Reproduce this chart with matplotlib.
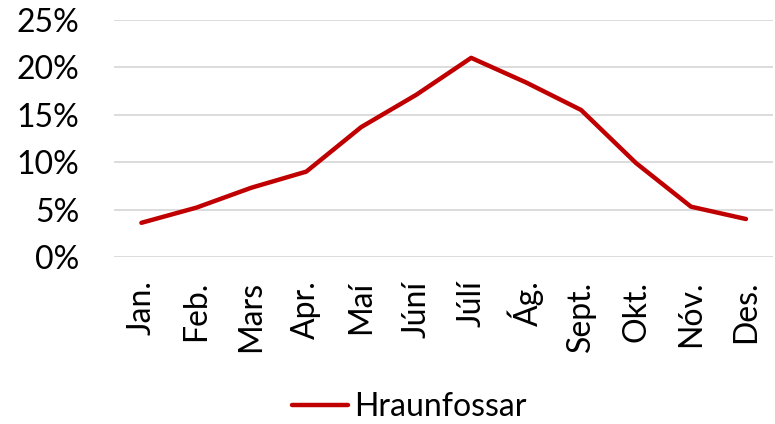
import matplotlib.pyplot as plt
from matplotlib.ticker import PercentFormatter

# data
manudir = ["Jan.", "Feb.", "Mars", "Apr.", "Maí", "Júní", "Júlí", "Ág.", "Sept.", "Okt.", "Nóv.", "Des."]
hraunfossar = [3.6, 5.2, 7.3, 9.0, 13.7, 17.1, 21.0, 18.4, 15.5, 9.9, 5.3, 4.0]

plt.rcParams['font.family'] = ['Lato', 'DejaVu Sans']

fig = plt.figure(figsize=(7.75, 4.24), dpi=100)
ax = fig.add_axes([0.147, 0.394, 0.851, 0.559])

ax.plot(range(len(manudir)), hraunfossar, color='#C00000', lw=3.2,
        solid_capstyle='round', label="Hraunfossar")

ax.set_xlim(-0.5, len(manudir) - 0.5)
ax.set_ylim(0, 25)
ax.set_yticks([0, 5, 10, 15, 20, 25])
ax.yaxis.set_major_formatter(PercentFormatter(decimals=0))
ax.set_xticks(range(len(manudir)))
ax.set_xticklabels(manudir, rotation=90)
ax.tick_params(length=0, labelsize=23, colors='black')
ax.tick_params(axis='y', pad=25)
ax.tick_params(axis='x', pad=17)
ax.grid(axis='y', color='#d9d9d9', lw=1.3)
ax.set_axisbelow(True)
for s in ax.spines.values():
    s.set_visible(False)

fig.legend(loc='center', bbox_to_anchor=(409 / 775, 1 - 407 / 424), frameon=False,
           fontsize=23, handlelength=1.75, handletextpad=0.2)

plt.savefig("out.png", dpi=100)
